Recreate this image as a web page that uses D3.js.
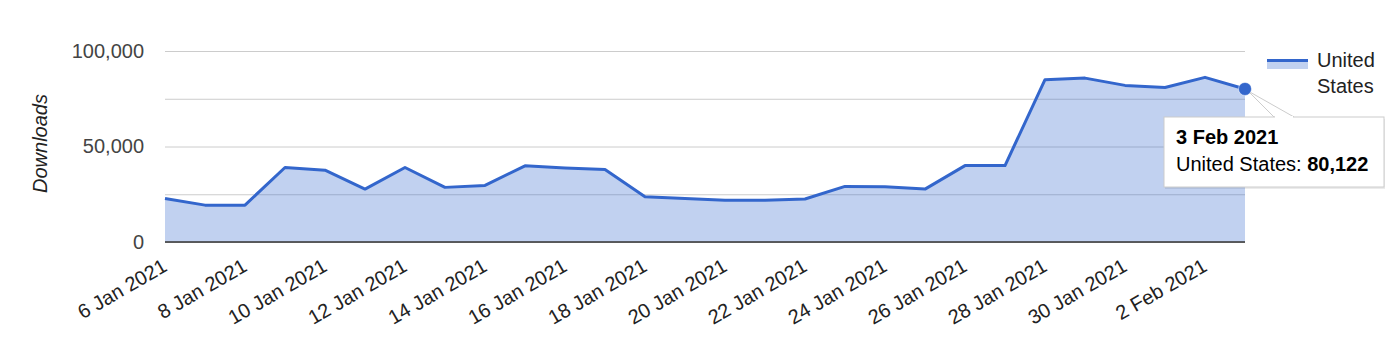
<!DOCTYPE html>
<html>
<head>
<meta charset="utf-8">
<script src="https://cdn.jsdelivr.net/npm/d3@7"></script>
<style>
  body { margin: 0; background: #fff; }
  text { font-family: Arial, 'Liberation Sans', sans-serif; }
</style>
</head>
<body>
<div id="chart-area"></div>
<script>
// Daily downloads, United States
const dates = [
    '6 Jan 2021', '7 Jan 2021', '8 Jan 2021', '9 Jan 2021', '10 Jan 2021', '11 Jan 2021',
    '12 Jan 2021', '13 Jan 2021', '14 Jan 2021', '15 Jan 2021', '16 Jan 2021', '17 Jan 2021',
    '18 Jan 2021', '19 Jan 2021', '20 Jan 2021', '21 Jan 2021', '22 Jan 2021', '23 Jan 2021',
    '24 Jan 2021', '25 Jan 2021', '26 Jan 2021', '27 Jan 2021', '28 Jan 2021', '29 Jan 2021',
    '30 Jan 2021', '1 Feb 2021', '2 Feb 2021', '3 Feb 2021'
];
const downloads = [
    22800, 19300, 19300, 39000, 37600, 27700,
    39000, 28600, 29600, 39900, 38800, 37900,
    23700, 22800, 21800, 21800, 22500, 29100,
    28900, 27700, 40000, 40000, 85000, 85800,
    82000, 80900, 86200, 80122
];
const seriesName = 'United States';
const yLabelTicks = [0, 50000, 100000];
const yGridTicks = [0, 25000, 50000, 75000, 100000];
const xLabelTicks = dates.filter((d, i) => i % 2 === 0 && i < 25).concat(['2 Feb 2021']);
const highlightIndex = dates.length - 1;

const data = dates.map((d, i) => ({date: d, value: downloads[i]}));

const wChart = 1400;
const hChart = 362;
const margin = {top: 51, right: 155, bottom: 120, left: 165};
const wGraph = wChart - margin.left - margin.right;
const hGraph = hChart - margin.top - margin.bottom;

const blue = '#3366cc';
const fmt = d3.format(',');

const svg = d3.select('#chart-area')
    .append('svg')
    .attr('width', wChart)
    .attr('height', hChart);

const graph = svg.append('g')
    .attr('transform', `translate(${margin.left}, ${margin.top})`);

// Scales
const xScale = d3.scalePoint()
    .domain(dates)
    .range([0, wGraph]);

const yScale = d3.scaleLinear()
    .domain([0, 100000])
    .range([hGraph, 0]);

// Gridlines
graph.append('g')
    .attr('class', 'grid')
    .call(d3.axisLeft(yScale).tickValues(yGridTicks).tickSize(-wGraph).tickFormat(''))
    .call(g => g.select('.domain').remove())
    .call(g => g.selectAll('line').attr('stroke', '#cccccc').attr('stroke-width', 1));

// Y axis labels
graph.append('g')
    .attr('class', 'y-axis')
    .call(d3.axisLeft(yScale).tickValues(yLabelTicks).tickSize(0).tickPadding(21).tickFormat(fmt))
    .call(g => g.select('.domain').remove())
    .call(g => g.selectAll('text')
        .attr('font-size', '20px')
        .attr('fill', '#444'));

// Y axis title
graph.append('text')
    .attr('x', -hGraph / 2 + 3)
    .attr('y', -118)
    .attr('transform', 'rotate(-90)')
    .attr('text-anchor', 'middle')
    .attr('font-size', '20px')
    .attr('font-style', 'italic')
    .attr('fill', '#222')
    .text('Downloads');

// Area + line
const area = d3.area()
    .x(d => xScale(d.date))
    .y0(yScale(0))
    .y1(d => yScale(d.value));

const line = d3.line()
    .x(d => xScale(d.date))
    .y(d => yScale(d.value));

graph.append('path')
    .datum(data)
    .attr('d', area)
    .attr('fill', blue)
    .attr('fill-opacity', 0.3);

// Baseline
graph.append('line')
    .attr('x1', 0)
    .attr('x2', wGraph)
    .attr('y1', yScale(0))
    .attr('y2', yScale(0))
    .attr('stroke', '#333')
    .attr('stroke-width', 1.5);

graph.append('path')
    .datum(data)
    .attr('d', line)
    .attr('fill', 'none')
    .attr('stroke', blue)
    .attr('stroke-width', 3)
    .attr('stroke-linejoin', 'round');

// X axis, slanted labels
graph.append('g')
    .attr('class', 'x-axis')
    .attr('transform', `translate(0, ${hGraph})`)
    .call(d3.axisBottom(xScale).tickValues(xLabelTicks).tickSize(0))
    .call(g => g.select('.domain').remove())
    .selectAll('text')
    .attr('font-size', '20px')
    .attr('fill', '#222')
    .attr('text-anchor', 'end')
    .attr('x', 3)
    .attr('y', 28)
    .attr('dy', 0)
    .attr('transform', 'rotate(-30, 3, 28)');

// Highlighted point with tooltip
const hp = data[highlightIndex];
const px = xScale(hp.date);
const py = yScale(hp.value);

const tipX = 1164 - margin.left;
const tipY = 117 - margin.top;
const tipW = 220;
const tipH = 70;

const tip = graph.append('g').attr('class', 'tooltip');

tip.append('rect')
    .attr('x', tipX + 1)
    .attr('y', tipY + 2)
    .attr('width', tipW)
    .attr('height', tipH)
    .attr('fill', '#000')
    .attr('fill-opacity', 0.08);

tip.append('path')
    .attr('d', `M${px + 3},${py + 2} L${tipX + 110},${tipY} L${tipX + 130},${tipY} Z`)
    .attr('fill', '#fff')
    .attr('stroke', '#ccc')
    .attr('stroke-width', 1);

tip.append('rect')
    .attr('x', tipX)
    .attr('y', tipY)
    .attr('width', tipW)
    .attr('height', tipH)
    .attr('fill', '#fff')
    .attr('stroke', '#ccc')
    .attr('stroke-width', 1);

tip.append('line')
    .attr('x1', tipX + 111)
    .attr('x2', tipX + 129)
    .attr('y1', tipY)
    .attr('y2', tipY)
    .attr('stroke', '#fff')
    .attr('stroke-width', 2);

tip.append('text')
    .attr('x', tipX + 12)
    .attr('y', tipY + 27)
    .attr('font-size', '20px')
    .attr('font-weight', 'bold')
    .attr('fill', '#000')
    .text(hp.date);

const t2 = tip.append('text')
    .attr('x', tipX + 12)
    .attr('y', tipY + 54)
    .attr('font-size', '20px')
    .attr('fill', '#000');
t2.append('tspan').text(`${seriesName}: `);
t2.append('tspan').attr('font-weight', 'bold').text(fmt(hp.value));

graph.append('circle')
    .attr('cx', px)
    .attr('cy', py)
    .attr('r', 6.5)
    .attr('fill', blue)
    .attr('stroke', '#fff')
    .attr('stroke-opacity', 0.5)
    .attr('stroke-width', 1);

// Legend
const legend = svg.append('g')
    .attr('transform', 'translate(1267, 60)');

legend.append('rect')
    .attr('x', 0)
    .attr('y', 0)
    .attr('width', 41)
    .attr('height', 9)
    .attr('fill', blue)
    .attr('fill-opacity', 0.3);

legend.append('line')
    .attr('x1', 0)
    .attr('x2', 41)
    .attr('y1', 0.5)
    .attr('y2', 0.5)
    .attr('stroke', blue)
    .attr('stroke-width', 3);

legend.selectAll('text.legend-label')
    .data(['United', 'States'])
    .enter()
    .append('text')
    .attr('class', 'legend-label')
    .attr('x', 50)
    .attr('y', (d, i) => 7 + i * 26)
    .attr('font-size', '20px')
    .attr('fill', '#222')
    .text(d => d);
</script>
</body>
</html>
